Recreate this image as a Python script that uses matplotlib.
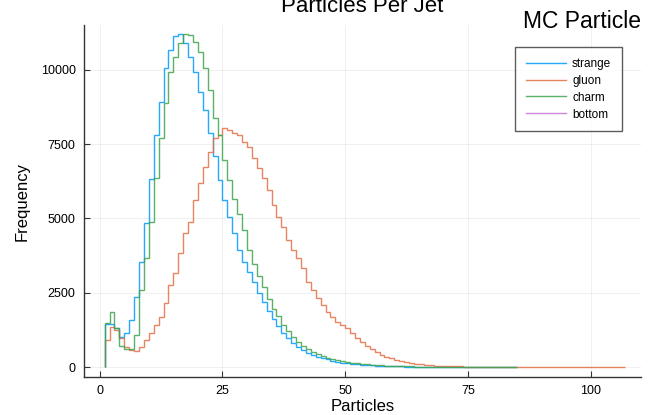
import numpy as np
import matplotlib
matplotlib.use("Agg")
import matplotlib.pyplot as plt

plt.rcParams['font.family'] = ['Liberation Sans', 'DejaVu Sans']

# bin counts, one per unit-wide bin starting at 1
strange = [1450, 1450, 1310, 1020, 1130, 1580, 2370, 3550, 4840, 6330,
           7800, 8930, 10060, 10670, 11150, 11190, 10900, 10440, 9940, 9260,
           8650, 7870, 7100, 6290, 5620, 5050, 4500, 3950, 3550, 3200,
           2850, 2500, 2180, 1900, 1620, 1370, 1150, 960, 800, 670,
           570, 480, 410, 350, 300, 255, 215, 180, 150, 125,
           105, 88, 74, 62, 52, 44, 37, 31, 26, 21,
           17, 14, 11, 9, 7, 6, 5, 4, 3, 3,
           2, 2, 1, 1, 1, 0, 0, 0, 0, 0,
           0, 0, 0, 0]
charm = [1480, 1850, 1310, 700, 610, 610, 1080, 2590, 3660, 4890,
         6350, 7690, 8870, 9940, 10440, 10890, 11190, 11170, 10950, 10610,
         10050, 9320, 8380, 7800, 6960, 6290, 5650, 5150, 4600, 3950,
         3450, 3050, 2700, 2300, 1950, 1700, 1420, 1200, 1000, 840,
         710, 600, 510, 430, 370, 315, 270, 230, 195, 165,
         140, 118, 100, 85, 72, 61, 51, 43, 36, 30,
         25, 21, 17, 14, 11, 9, 7, 6, 5, 4,
         3, 3, 2, 2, 1, 1, 1, 0, 0, 0,
         0, 0, 0, 0]
gluon = [900, 1360, 1240, 970, 680, 570, 550, 680, 900, 1150,
         1410, 1690, 2150, 2760, 3160, 3840, 4500, 4890, 5620, 6190,
         6740, 7240, 7700, 7800, 8040, 7970, 7870, 7800, 7580, 7410,
         7020, 6690, 6350, 5960, 5450, 5060, 4720, 4270, 3940, 3660,
         3330, 2870, 2590, 2320, 2090, 1860, 1690, 1520, 1400, 1310,
         1140, 970, 840, 720, 600, 500, 420, 350, 290, 240,
         200, 165, 135, 110, 90, 74, 60, 50, 41, 34,
         28, 23, 19, 15, 12, 10, 8, 7, 5, 4,
         3, 3, 2, 2, 1, 1, 0, 0, 0, 0,
         0, 0, 0, 0, 0, 0, 0, 0, 0, 0,
         0, 0, 0, 0, 0, 0]
bottom = []

x_ticks = [0, 25, 50, 75, 100]
y_ticks = [0, 2500, 5000, 7500, 10000]

colors = {'strange': '#009AFA', 'gluon': '#E36F47',
          'charm': '#3EA44E', 'bottom': '#C271D2'}

fig = plt.figure(figsize=(6.52, 4.15), dpi=100)
ax = fig.add_axes([0.1288, 0.0916, 0.854, 0.848])

for name, vals in [('strange', strange), ('gluon', gluon), ('charm', charm)]:
    edges = np.arange(1, len(vals) + 2)
    ax.stairs(vals, edges, baseline=0, color=colors[name], lw=1.0,
              alpha=0.85, label=name)
ax.plot([], [], color=colors['bottom'], lw=1.0, alpha=0.85, label='bottom')

ax.set_xlim(-3.2, 110.2)
ax.set_ylim(-336, 11507)
ax.set_xticks(x_ticks)
ax.set_yticks(y_ticks)
ax.grid(True, color='black', alpha=0.07, lw=0.6)
ax.set_axisbelow(True)
for s in ['top', 'right']:
    ax.spines[s].set_visible(False)
for s in ['left', 'bottom']:
    ax.spines[s].set_color('#333333')
    ax.spines[s].set_linewidth(1.0)
ax.tick_params(direction='in', length=4, width=0.8, labelsize=9,
               color='#333333', pad=6)

ax.set_xlabel('Particles', fontsize=12, labelpad=1)
ax.set_ylabel('Frequency', fontsize=12, labelpad=8)

fig.text(0.556, 1 - 12 / 415, 'Particles Per Jet', fontsize=16,
         ha='center', va='baseline')
fig.text(0.983, 1 - 28 / 415, 'MC Particle', fontsize=16.5,
         ha='right', va='baseline')

leg = ax.legend(loc='upper right', bbox_to_anchor=(0.966, 0.9375),
                fontsize=8.5, frameon=True, fancybox=False,
                handlelength=3.4, borderpad=0.9, labelspacing=0.42,
                handletextpad=0.5, borderaxespad=0)
leg.get_frame().set_edgecolor('#333333')
leg.get_frame().set_linewidth(1.0)

fig.savefig('out.png', dpi=100)
